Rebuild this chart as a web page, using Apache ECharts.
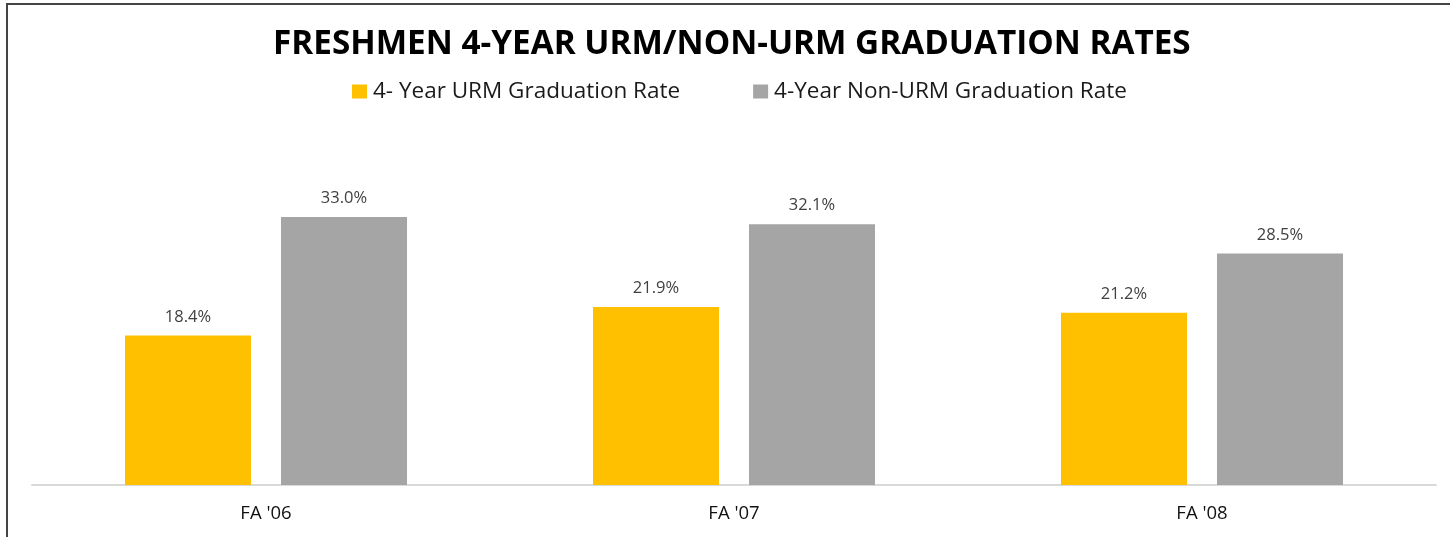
<!DOCTYPE html>
<html>
<head>
<meta charset="utf-8">
<script src="https://cdn.jsdelivr.net/npm/echarts@6/dist/echarts.min.js"></script>
<style>
html,body{margin:0;padding:0;background:#fff;}
#chart{width:1450px;height:537px;}
</style>
</head>
<body>
<div id="chart"></div>
<script>
const categories = ["FA '06", "FA '07", "FA '08"];
const urmRates = [18.4, 21.9, 21.2];
const nonUrmRates = [33.0, 32.1, 28.5];
const seriesNames = ["4- Year URM Graduation Rate", "4-Year Non-URM Graduation Rate"];

const chart = echarts.init(document.getElementById('chart'));
const fontFam = "'Open Sans', 'Noto Sans', sans-serif";
chart.setOption({
  animation: false,
  backgroundColor: '#fff',
  title: {
    text: 'FRESHMEN 4-YEAR URM/NON-URM GRADUATION RATES',
    left: 273,
    top: 28,
    padding: 0,
    textStyle: {fontFamily: fontFam, fontWeight: 'bold', fontSize: 33.3, color: '#000'}
  },
  legend: {
    top: 80,
    left: 352,
    padding: 0,
    itemWidth: 15,
    itemHeight: 14,
    itemGap: 73,
    icon: 'rect',
    textStyle: {fontFamily: fontFam, fontSize: 22.5, color: '#1a1a1a', padding: [0, 0, 0, 1]}
  },
  graphic: [
    {type: 'line', shape: {x1: 7, y1: 3, x2: 7, y2: 537}, style: {stroke: '#444', lineWidth: 2}},
    {type: 'line', shape: {x1: 6, y1: 4, x2: 1450, y2: 4}, style: {stroke: '#444', lineWidth: 2}}
  ],
  grid: {left: 32, right: 14, top: 160, bottom: 52},
  xAxis: {
    type: 'category',
    data: categories,
    axisLine: {lineStyle: {color: '#d9d9d9', width: 2}},
    axisTick: {show: false},
    axisLabel: {fontFamily: fontFam, fontSize: 18.5, color: '#111', margin: 19}
  },
  yAxis: {type: 'value', min: 0, max: 40, show: false, splitLine: {show: false}},
  series: [
    {
      name: seriesNames[0], type: 'bar', data: urmRates, barWidth: 126, barGap: '23.8%',
      itemStyle: {color: '#FFC000'},
      label: {show: true, position: 'top', distance: 10, formatter: p => p.value.toFixed(1) + '%',
        fontFamily: fontFam, fontSize: 16.5, color: '#404040'}
    },
    {
      name: seriesNames[1], type: 'bar', data: nonUrmRates, barWidth: 126,
      itemStyle: {color: '#A5A5A5'},
      label: {show: true, position: 'top', distance: 10, formatter: p => p.value.toFixed(1) + '%',
        fontFamily: fontFam, fontSize: 16.5, color: '#404040'}
    }
  ]
});
</script>
</body>
</html>
